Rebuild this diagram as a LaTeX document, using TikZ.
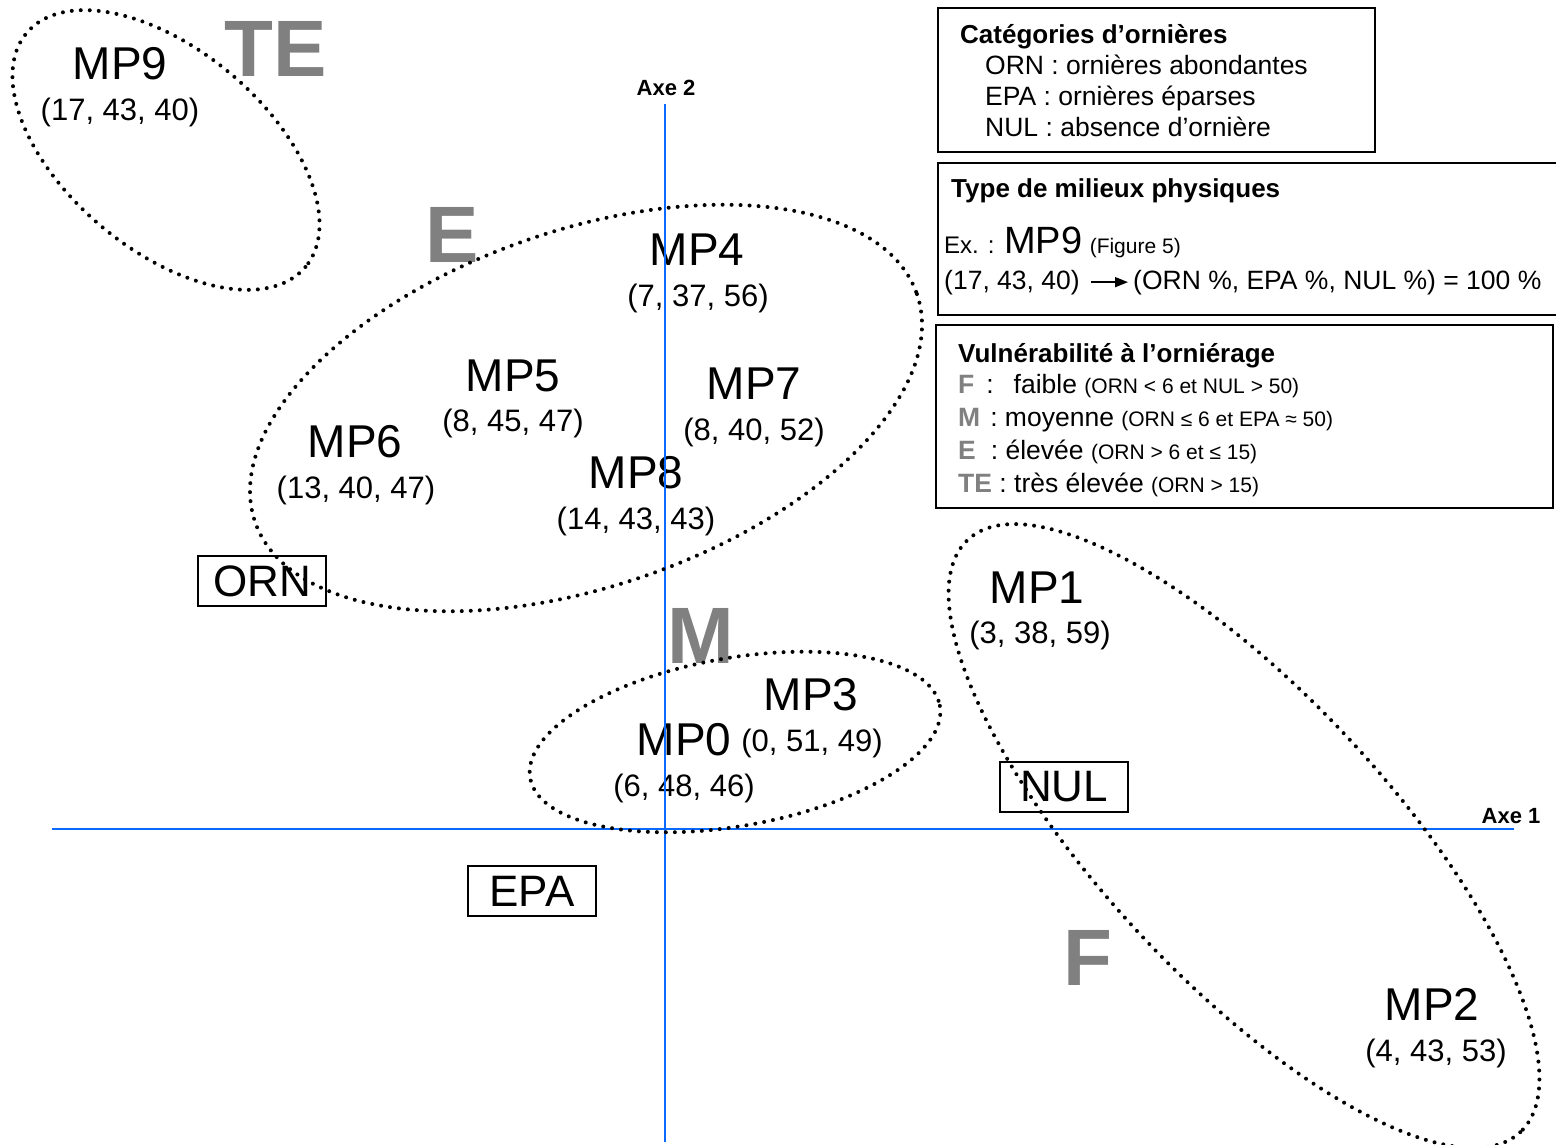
\documentclass[tikz,border=0pt]{standalone}
\usepackage{fontspec}
\setmainfont{Liberation Sans}
\usetikzlibrary{arrows.meta}
\definecolor{axisblue}{RGB}{10,105,255}
\definecolor{lettergray}{RGB}{128,128,128}
\newcommand\fMP{\fontsize{46}{50}\selectfont}
\newcommand\fCo{\fontsize{31}{34}\selectfont}
\newcommand\fBig{\fontsize{80}{84}\selectfont\bfseries}
\newcommand\fCat{\fontsize{44}{48}\selectfont}
\newcommand\fLeg{\fontsize{26.5}{29}\selectfont}
\newcommand\fLegT{\fontsize{26}{29}\selectfont\bfseries}
\newcommand\fSm{\fontsize{21}{23}\selectfont}
\newcommand\fAx{\fontsize{22}{24}\selectfont\bfseries}
\newcommand\gl[1]{\textcolor{lettergray}{\bfseries #1}}
\begin{document}
\begin{tikzpicture}[x=1pt,y=-1pt,
  mp/.style={font=\fMP, inner sep=0pt},
  co/.style={font=\fCo, inner sep=0pt},
  big/.style={font=\fBig, text=lettergray, inner sep=0pt},
  cat/.style={draw, line width=1.5pt, font=\fCat, minimum width=128pt, minimum height=50pt, inner sep=0pt},
  leg/.style={anchor=base west, inner sep=0pt, font=\fLeg},
  legbox/.style={draw, line width=1.5pt},
  dots/.style={line width=4pt, line cap=round, dash pattern=on 0pt off 9pt},
  axisline/.style={draw=axisblue, line width=2.8pt},
  axlabel/.style={font=\fAx, inner sep=0pt}]
\useasboundingbox (0,0) rectangle (1556,1145);
\clip (0,0) rectangle (1556,1145);

% big gray letters
\node[big] (lTE) at (276,49) {TE};
\node[big] (lE) at (452,235) {E};
\node[big] (lM) at (701,636) {M};
\node[big] (lF) at (1088,958) {F};

% MP labels
\node[mp] (mp9) at (120,64) {MP9};
\node[co] (c9) at (120,112) {(17, 43, 40)};
\node[mp] (mp4) at (697,250) {MP4};
\node[co] (c4) at (698,298) {(7, 37, 56)};
\node[mp] (mp5) at (513,376) {MP5};
\node[co] (c5) at (513,423) {(8, 45, 47)};
\node[mp] (mp7) at (754,384) {MP7};
\node[co] (c7) at (754,432) {(8, 40, 52)};
\node[mp] (mp6) at (355,442) {MP6};
\node[co] (c6) at (356,490) {(13, 40, 47)};
\node[mp] (mp8) at (636,473) {MP8};
\node[co] (c8) at (636,521) {(14, 43, 43)};
\node[mp] (mp1) at (1037,588) {MP1};
\node[co] (c1) at (1040,635) {(3, 38, 59)};
\node[mp] (mp3) at (811,695) {MP3};
\node[mp] (mp0) at (684,740) {MP0};
\node[co] (c3) at (812,743) {(0, 51, 49)};
\node[co] (c0) at (684,788) {(6, 48, 46)};
\node[mp] (mp2) at (1432,1004) {MP2};
\node[co] (c2) at (1436,1053) {(4, 43, 53)};

% category boxes
\node[cat] (orn) at (262,581) {ORN};
\node[cat] (nul) at (1064,787) {NUL};
\node[cat] (epa) at (532,891) {EPA};

% axes
\coordinate (a1w) at (52,829);
\coordinate (a1e) at (1514,829);
\coordinate (a2n) at (665,104);
\coordinate (a2s) at (665,1142);
\draw[axisline] (a1w) -- (a1e);
\draw[axisline] (a2n) -- (a2s);
\node[axlabel] (ax1) at (1511,816) {Axe 1};
\node[axlabel] (ax2) at (666,88) {Axe 2};

% dotted ellipses
\draw[dots, shift={(166,150)}, rotate=-40] (0,0) ellipse [x radius=182, y radius=100];
\draw[dots, shift={(586,408)}, rotate=19] (0,0) ellipse [x radius=350, y radius=178];
\draw[dots, shift={(735,742)}, rotate=10] (0,0) ellipse [x radius=208, y radius=84];
\draw[dots, shift={(1244,836)}, rotate=-47] (0,0) ellipse [x radius=405, y radius=143];

% legend box 1
\draw[legbox] (938,8) rectangle (1375,152);
\node[leg, font=\fLegT] (t1) at (960,44) {Catégories d’ornières};
\node[leg] (r11) at (985,75) {ORN : ornières abondantes};
\node[leg] (r12) at (985,106) {EPA : ornières éparses};
\node[leg] (r13) at (985,137) {NUL : absence d’ornière};

% legend box 2
\draw[legbox] (1570,163) -- (938,163) -- (938,315) -- (1570,315);
\node[leg, font=\fLegT] (t2) at (951,197) {Type de milieux physiques};
\node[leg] (r21) at (944,253) {{\fontsize{24}{26}\selectfont Ex. :} {\fontsize{38}{40}\selectfont MP9} {\fSm(Figure 5)}};
\node[leg] (r22a) at (944,289) {(17, 43, 40)};
\node[leg] (r22b) at (1133,289) {(ORN \%, EPA \%, NUL \%) = 100 \%};
\draw[line width=1.6pt, -{Triangle[length=13pt,width=10pt]}, shorten <=11pt, shorten >=5pt] (r22a.east) -- (r22b.west);

% legend box 3
\draw[legbox] (936,325) rectangle (1553,508);
\node[leg, font=\fLegT] (t3) at (958,362) {Vulnérabilité à l’orniérage};
\node[leg] (r31) at (958,393) {\gl{F}\hspace{12pt}:\hspace{20pt}faible {\fSm(ORN < 6 et NUL > 50)}};
\node[leg] (r32) at (958,426) {\gl{M}\hspace{10pt}: moyenne {\fSm(ORN ≤ 6 et EPA ≈ 50)}};
\node[leg] (r33) at (958,459) {\gl{E}\hspace{15pt}: élevée {\fSm(ORN > 6 et ≤ 15)}};
\node[leg] (r34) at (958,492) {\gl{TE} : très élevée {\fSm(ORN > 15)}};
\end{tikzpicture}
\end{document}
